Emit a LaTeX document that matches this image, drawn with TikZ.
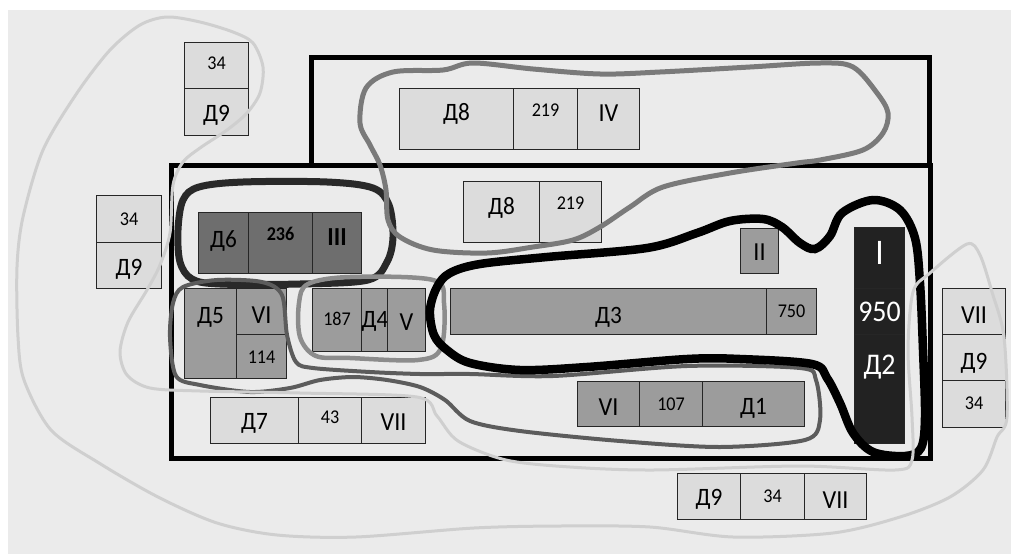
\documentclass[tikz,border=0pt]{standalone}
\usepackage{fontspec}
\setmainfont{Carlito}[FakeStretch=0.93]
\newcommand\szD{\fontsize{25}{25}\selectfont}
\newcommand\szN{\fontsize{19.5}{20}\selectfont}
\newcommand\szR{\fontsize{26}{26}\selectfont}
\newcommand\szB{\fontsize{30}{30}\selectfont}
\newcommand\szI{\fontsize{36}{36}\selectfont}
% lower a label by #1 pt below the cell centre line
\newcommand\lowr[2]{\raisebox{-#1pt}{#2}}
\definecolor{bgc}{HTML}{EBEBEB}
\definecolor{cLight}{HTML}{DCDCDC}
\definecolor{cDark}{HTML}{6E6E6E}
\definecolor{cMid}{HTML}{9C9C9C}
\definecolor{cBlack}{HTML}{222222}
\tikzset{
  cell/.style={draw=black!85, line width=1.1pt, inner sep=0pt, anchor=north west,
    text height=0pt, text depth=0pt},
  light/.style={cell, fill=cLight},
  darkc/.style={cell, fill=cDark},
  midc/.style={cell, fill=cMid},
  blackc/.style={cell, fill=cBlack, text=white},
  wh/.style 2 args={minimum width=#1pt, minimum height=#2pt},
  frame/.style={line width=5pt, line join=miter, draw=black},
  loopLight/.style={draw=black!19, line width=3pt},
  loopGroup/.style={draw=black!52, line width=5pt},
  loopMain/.style={draw=black, line width=8.5pt},
  loopThree/.style={draw=black!84, line width=7pt},
  loopFive/.style={draw=black!45, line width=4.5pt},
  loopSix/.style={draw=black!64, line width=4pt},
}
\begin{document}
\begin{tikzpicture}[x=1pt, y=-1pt]
\useasboundingbox (0,0) rectangle (1011,554);
\fill[white] (0,0) rectangle (1011,554);
\fill[bgc] (8,10) rectangle (1011,554);

% workshop walls
\draw[frame] (311,165) -- (311,57) -- (929,57) -- (929,165);
\draw[frame] (171,165) rectangle (930,458);

% upper left stack
\node[light, wh={64}{46}] (tlA) at (184,42) {\szN\lowr{4}{34}};
\node[light, wh={64}{47}] (tlB) at (184,88) {\szD\lowr{9.5}{Д9}};
% left stack
\node[light, wh={65}{47}] (lsA) at (96,195) {\szN\lowr{6}{34}};
\node[light, wh={65}{46}] (lsB) at (96,242) {\szD\lowr{10}{Д9}};
% upper bay row
\node[light, wh={114}{61}] (ua) at (399,88) {\szD\lowr{1}{Д8}};
\node[light, wh={64}{61}] (ub) at (513,88) {\szN\lowr{-2.5}{219}};
\node[light, wh={62}{61}] (uc) at (577,88) {\szR\lowr{2.5}{IV}};
% second D8 row
\node[light, wh={76}{61}] (ma) at (463,181) {\szD\lowr{2.5}{Д8}};
\node[light, wh={62}{61}] (mb) at (539,181) {\szN\lowr{-3}{219}};
% D6 row
\node[darkc, wh={50}{61}] (ka) at (198,212) {\szD\lowr{4}{Д6}};
\node[darkc, wh={64}{61}] (kb) at (248,212) {\szN\bfseries\lowr{-2.5}{236}};
\node[darkc, wh={49}{61}] (kc) at (312,212) {\szR\bfseries\lowr{2.5}{III}};
% D5 block
\node[midc, wh={52}{90}] (pa) at (184,288) {\szD\lowr{-10}{Д5}};
\node[midc, wh={50}{46}] (pb) at (236,288) {\szR\lowr{12}{VI}};
\node[midc, wh={50}{44}] (pc) at (236,334) {\szN\lowr{7}{114}};
% 187 row
\node[midc, wh={49}{63}] (qa) at (312,288) {\szN\lowr{5.5}{187}};
\node[midc, wh={26}{63}] (qb) at (361,288) {\szD\lowr{7}{Д4}};
\node[midc, wh={38}{63}] (qc) at (387,288) {\szR\lowr{10}{V}};
% D7 row
\node[light, wh={88}{46}] (ra) at (210,397) {\szD\lowr{9}{Д7}};
\node[light, wh={63}{46}] (rb) at (298,397) {\szN\lowr{3}{43}};
\node[light, wh={64}{46}] (rc) at (361,397) {\szR\lowr{10}{VII}};
% D3 row
\node[midc, wh={316}{46}] (sa) at (450,288) {\szD\lowr{12}{Д3}};
\node[midc, wh={50}{46}] (sb) at (766,288) {\szN\lowr{5.7}{750}};
% II
\node[midc, wh={38}{45}] (ii) at (740,228) {\szR\lowr{9.5}{II}};
% D2 column
\node[blackc, wh={50}{61}] (ca) at (854,227) {\szI\lowr{6}{I}};
\node[blackc, wh={50}{46}] (cb) at (854,288) {\szB\lowr{10}{950}};
\node[blackc, wh={50}{109}] (cc) at (854,334) {\szB\lowr{-14.5}{Д2}};
% VI 107 D1 row
\node[midc, wh={62}{45}] (va) at (577,381) {\szR\lowr{11.5}{VI}};
\node[midc, wh={63}{45}] (vb) at (639,381) {\szN\lowr{6}{107}};
\node[midc, wh={102}{45}] (vc) at (702,381) {\szD\lowr{10}{Д1}};
% right stack
\node[light, wh={63}{46}] (xa) at (942,288) {\szR\lowr{12}{VII}};
\node[light, wh={63}{46}] (xb) at (942,334) {\szD\lowr{12}{Д9}};
\node[light, wh={63}{47}] (xc) at (942,380) {\szN\lowr{5.5}{34}};
% bottom row
\node[light, wh={63}{46}] (ya) at (677,473) {\szD\lowr{9}{Д9}};
\node[light, wh={64}{46}] (yb) at (740,473) {\szN\lowr{5.7}{34}};
\node[light, wh={62}{46}] (yc) at (804,473) {\szR\lowr{12}{VII}};

% group contours
\draw[loopThree] plot[smooth cycle, tension=0.55] coordinates {
  (183,200) (199,187) (243,182) (327,182) (373,188) (389,205) (393,237)
  (387,262) (368,280) (300,284) (220,284) (192,279) (180,262) (178,230)};
\draw[loopFive] plot[smooth cycle, tension=0.55] coordinates {
  (299,303) (308,284) (350,277) (433,280) (444,303) (441,348) (418,360)
  (350,358) (316,356) (300,337)};
\draw[loopSix] plot[smooth cycle, tension=0.5] coordinates {
  (183,287) (217,280) (262,282) (282,295) (287,335) (296,362) (313,368)
  (370,372) (420,374) (470,374) (553,376) (687,366) (800,368) (816,380)
  (820,420) (805,440) (720,447) (620,441) (520,431) (470,421) (445,400)
  (420,387) (387,380) (353,377) (320,380) (290,388) (250,392) (200,385)
  (176,376) (170,337) (173,303)};
\draw[loopMain] plot[smooth cycle, tension=0.55] coordinates {
  (437,287) (450,273) (480,264) (547,257) (647,248) (697,233) (730,221)
  (763,219) (782,227) (800,243) (815,249) (830,236) (842,213) (873,200)
  (900,210) (915,238) (920,283) (923,350) (925,417) (921,448) (905,456)
  (873,452) (853,433) (840,403) (827,378) (812,364) (740,359) (687,359)
  (587,367) (520,370) (470,363) (447,350) (434,335) (430,310)};
\draw[loopGroup] plot[smooth cycle, tension=0.55] coordinates {
  (360,123) (366,88) (393,72) (443,70) (473,63) (533,69) (600,74) (660,72)
  (750,67) (820,63) (853,67) (877,93) (888,113) (883,133) (863,150)
  (820,160) (797,163) (730,173) (663,187) (630,207) (600,227) (573,240)
  (533,247) (487,253) (433,250) (400,237) (388,220) (386,190) (380,165)
  (370,145)};
\draw[loopLight] plot[smooth cycle, tension=0.5] coordinates {
  (233,32) (253,43) (263,67) (260,93) (247,113) (227,130) (200,148)
  (183,162) (173,185) (170,233) (160,265) (147,290) (128,322) (120,352)
  (127,375) (150,388) (200,391) (300,393) (417,397) (437,416) (458,441)
  (506,460) (570,467) (653,470) (800,466) (895,470) (912,460) (912,417)
  (908,350) (913,292) (930,273) (967,244) (980,255) (992,292) (1004,337)
  (1007,417) (997,437) (983,470) (950,497) (900,517) (833,533) (733,537)
  (650,527) (560,526) (474,528) (356,537) (277,535) (217,523) (158,497)
  (99,463) (51,430) (24,380) (18,337) (17,267) (23,217) (43,150) (77,93)
  (110,50) (140,25) (167,17) (200,22)};
\end{tikzpicture}
\end{document}
